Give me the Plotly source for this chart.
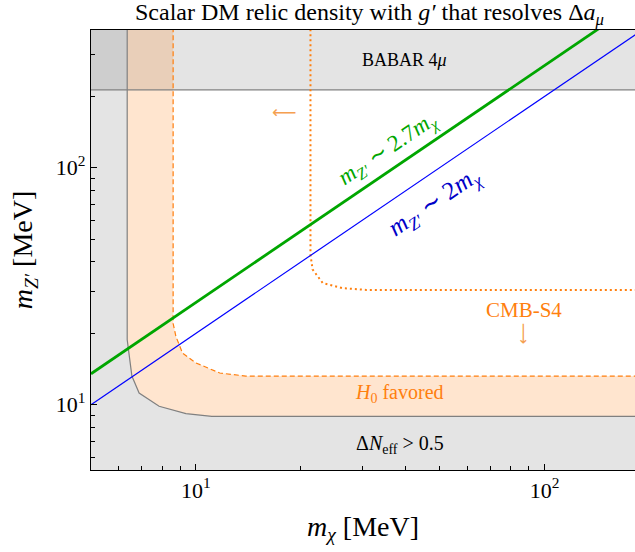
import numpy as np
import plotly.graph_objects as go

# ---------------- data (MeV) ----------------
x_min, x_max = 5.0, 181.6
y_min, y_max = 5.3, 381.0
y_far = 2000.0   # fills extend past the top edge and are clipped

# Delta N_eff > 0.5 boundary (grey solid)
neff_x = [6.35, 6.35, 6.55, 6.87, 7.84, 9.36, 11.1, 181.6]
neff_y = [2000.0, 18.8, 13.2, 11.2, 9.84, 9.17, 8.93, 8.93]

# H0 favored upper boundary (orange dashed)
h0_x = [8.6, 8.6, 8.76, 9.15, 10.0, 11.7, 13.9, 181.6]
h0_y = [2000.0, 22.0, 19.4, 16.5, 15.0, 13.6, 13.2, 13.2]

# CMB-S4 projection (orange dotted)
cmb_x = [21.3, 21.3, 21.6, 23.1, 26.4, 30.8, 181.6]
cmb_y = [2000.0, 43.0, 37.2, 32.6, 31.0, 30.5, 30.5]

# BABAR 4 mu limit
babar_limit = 213.0

# mass relations
ratio_green = 2.7
ratio_blue = 2.0
line_x = [5.0, 200.0]

serif = "Liberation Serif, Times New Roman, serif"
orange = "#ff7f0e"
grey_fill = "rgba(128,128,128,0.21)"
orange_fill = "rgba(255,127,14,0.2)"

fig = go.Figure()

# Delta N_eff excluded region
fx = neff_x + [x_max, x_min, x_min]
fy = neff_y + [y_min * 0.5, y_min * 0.5, y_far]
fig.add_trace(go.Scatter(x=fx, y=fy, fill="toself", fillcolor=grey_fill,
                         line=dict(width=0), mode="lines", hoverinfo="skip"))
# BABAR region
fig.add_trace(go.Scatter(x=[x_min, x_max, x_max, x_min], y=[babar_limit, babar_limit, y_far, y_far],
                         fill="toself", fillcolor=grey_fill, line=dict(width=0),
                         mode="lines", hoverinfo="skip"))
# H0 favored band
bx = h0_x + neff_x[::-1]
by = h0_y + neff_y[::-1]
fig.add_trace(go.Scatter(x=bx, y=by, fill="toself", fillcolor=orange_fill,
                         line=dict(width=0), mode="lines", hoverinfo="skip"))

# boundary lines
fig.add_trace(go.Scatter(x=neff_x, y=neff_y, mode="lines",
                         line=dict(color="#808080", width=1.2), hoverinfo="skip"))
fig.add_trace(go.Scatter(x=[x_min, x_max], y=[babar_limit, babar_limit], mode="lines",
                         line=dict(color="#808080", width=1.2), hoverinfo="skip"))
fig.add_trace(go.Scatter(x=h0_x, y=h0_y, mode="lines",
                         line=dict(color=orange, width=1.2, dash="5px,3px"), hoverinfo="skip"))
fig.add_trace(go.Scatter(x=cmb_x, y=cmb_y, mode="lines",
                         line=dict(color=orange, width=2, dash="2px,3px"), hoverinfo="skip"))

# mass relation lines
fig.add_trace(go.Scatter(x=line_x, y=[ratio_green * v for v in line_x], mode="lines",
                         line=dict(color="#00a600", width=2.8), hoverinfo="skip"))
fig.add_trace(go.Scatter(x=line_x, y=[ratio_blue * v for v in line_x], mode="lines",
                         line=dict(color="#0000ff", width=1.2), hoverinfo="skip"))

ann = []
def add(text, x, y, size, color="black", angle=0, family=serif):
    ann.append(dict(text=text, x=np.log10(x), y=np.log10(y), xref="x", yref="y",
                    showarrow=False, textangle=angle,
                    font=dict(family=family, size=size, color=color)))

arrow_font = "DejaVu Sans, sans-serif"
add("BABAR 4<i>μ</i>", 39.7, 286, 18)
add("⟵", 17.9, 171, 17, "#f5a050", 0, arrow_font)
add("<i>m</i><sub><i>Z′</i></sub> ∼ 2.7<i>m</i><sub><i>χ</i></sub>", 35.7, 119, 23, "#00a600", -34)
add("<i>m</i><sub><i>Z′</i></sub> ∼ 2<i>m</i><sub><i>χ</i></sub>", 48.5, 71.0, 25, "#0000c8", -34)
add("CMB-S4", 87.3, 25.2, 21, orange)
add("⟵", 86.5, 19.9, 15, "#f5a050", -90, arrow_font)
add("<i>H</i><sub>0</sub> favored", 38.4, 11.1, 20, orange)
add("Δ<i>N</i><sub>eff</sub> > 0.5", 38.4, 6.78, 20)

fig_w, fig_h = 635, 552
plot_l, plot_t, plot_b = 91, 30, 470        # in window pixels
plot_w = fig_w - plot_l
plot_h = plot_b - plot_t
ann.append(dict(text="Scalar DM relic density with <i>g′</i> that resolves Δ<i>a</i><sub><i>μ</i></sub>",
                x=(369 - plot_l) / plot_w, y=1 + (plot_t - 14) / plot_h, xref="paper", yref="paper",
                xanchor="center", yanchor="middle", showarrow=False,
                font=dict(family=serif, size=24, color="black")))

fig.update_layout(
    width=fig_w, height=fig_h,
    margin=dict(l=plot_l, r=0, t=plot_t, b=fig_h - plot_b, autoexpand=False),
    plot_bgcolor="white", paper_bgcolor="white",
    showlegend=False,
    annotations=ann,
    xaxis=dict(type="log", range=[np.log10(x_min), np.log10(x_max)], automargin=False,
               tickvals=[10, 100], ticktext=["10<sup>1</sup>", "10<sup>2</sup>"],
               ticks="inside", ticklen=6, tickcolor="black", showgrid=False, zeroline=False,
               showline=True, linecolor="black", linewidth=1.2, mirror=True,
               tickfont=dict(family=serif, size=22, color="black"),
               minor=dict(ticks="inside", ticklen=3.5, tickcolor="black",
                          tickvals=[6, 7, 8, 9, 20, 30, 40, 50, 60, 70, 80, 90], showgrid=False),
               title=dict(text="<i>m</i><sub><i>χ</i></sub> [MeV]", standoff=14,
                          font=dict(family=serif, size=28, color="black"))),
    yaxis=dict(type="log", range=[np.log10(y_min), np.log10(y_max)], automargin=False,
               tickvals=[10, 100], ticktext=["10<sup>1</sup>", "10<sup>2</sup>"],
               ticks="inside", ticklen=6, tickcolor="black", showgrid=False, zeroline=False,
               showline=True, linecolor="black", linewidth=1.2, mirror=False,
               tickfont=dict(family=serif, size=22, color="black"),
               minor=dict(ticks="inside", ticklen=3.5, tickcolor="black",
                          tickvals=[6, 7, 8, 9, 20, 30, 40, 50, 60, 70, 80, 90, 200, 300],
                          showgrid=False),
               title=dict(text="<i>m</i><sub><i>Z′</i></sub> [MeV]", standoff=14,
                          font=dict(family=serif, size=28, color="black"))),
)

fig.write_html("out.html", config={"displayModeBar": False},
               post_script="document.body.style.margin='0px';document.body.style.overflow='hidden';")
